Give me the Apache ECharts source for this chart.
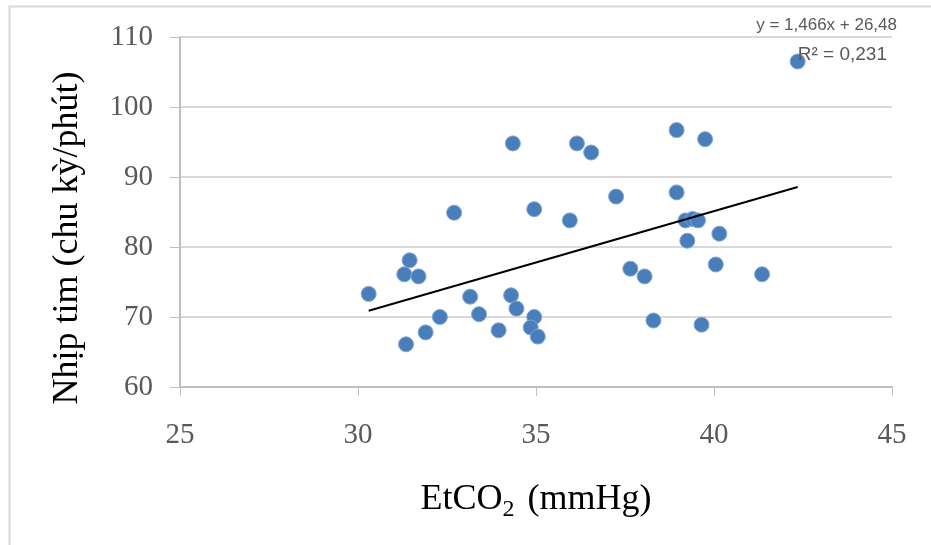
<!DOCTYPE html>
<html>
<head>
<meta charset="utf-8">
<script src="https://cdn.jsdelivr.net/npm/echarts@6/dist/echarts.min.js"></script>
<style>html,body{margin:0;padding:0;background:#fff;}#c{width:931px;height:545px;}</style>
</head>
<body>
<div id="c"></div>
<script>
// EtCO2 (mmHg) values
const etco2 = [32.7, 34.95, 31.45, 31.3, 31.7, 30.3, 33.15, 34.3, 32.3, 33.4, 34.45, 31.9, 31.35, 33.95, 34.95, 34.85, 35.05,
  36.15, 36.55, 38.95, 39.75, 37.25, 38.95, 35.95, 39.2, 39.4, 39.55, 39.25, 40.15, 37.65, 38.05, 40.05, 41.35, 38.3, 39.65,
  42.35, 34.35];
// Heart rate (beats/min) values
const heartRate = [84.9, 85.4, 78.1, 76.1, 75.8, 73.3, 72.9, 73.1, 70.0, 70.4, 71.2, 67.8, 66.1, 68.1, 70.0, 68.5, 67.2,
  94.8, 93.5, 96.7, 95.4, 87.2, 87.8, 83.8, 83.8, 84.0, 83.8, 80.9, 81.9, 76.9, 75.8, 77.5, 76.1, 69.5, 68.9,
  106.5, 94.8];
// Trendline coefficients as printed on the chart
const slope = 1.466, intercept = 26.48;
const xTicks = [25, 30, 35, 40, 45];
const yTicks = [60, 70, 80, 90, 100, 110];
const yTitle = 'Nhịp tim (chu kỳ/phút)';

const points = etco2.map((x, i) => [x, heartRate[i]]);
const xMin = Math.min(...etco2), xMax = Math.max(...etco2);
const trend = [[xMin, slope * xMin + intercept], [xMax, slope * xMax + intercept]];

const chart = echarts.init(document.getElementById('c'));
const serif = '"Liberation Serif", "Times New Roman", serif';
chart.setOption({
  animation: false,
  backgroundColor: '#fff',
  grid: { left: 180, top: 37, width: 712, height: 350 },
  xAxis: {
    type: 'value', min: xTicks[0], max: xTicks[xTicks.length - 1], interval: 5,
    axisLine: { show: true, lineStyle: { color: '#bfbfbf', width: 2 } },
    axisTick: { show: true, length: 9, lineStyle: { color: '#bfbfbf', width: 1 } },
    splitLine: { show: false },
    axisLabel: { color: '#595959', fontFamily: serif, fontSize: 29, margin: 34 },
    name: 'EtCO{sub|2} (mmHg)', nameLocation: 'middle', nameGap: 91,
    nameTextStyle: { color: '#000', fontFamily: serif, fontSize: 36,
      rich: { sub: { fontFamily: serif, fontSize: 24, verticalAlign: 'bottom', padding: [20, 4, 0, 0], color: '#000' } } }
  },
  yAxis: {
    type: 'value', min: yTicks[0], max: yTicks[yTicks.length - 1], interval: 10,
    axisLine: { show: true, lineStyle: { color: '#bfbfbf', width: 2 } },
    axisTick: { show: true, length: 10, lineStyle: { color: '#bfbfbf', width: 1 } },
    splitLine: { show: true, lineStyle: { color: '#d9d9d9', width: 2 } },
    axisLabel: { color: '#595959', fontFamily: serif, fontSize: 29, margin: 27 }
  },
  series: [
    {
      type: 'scatter', data: points, symbol: 'circle', symbolSize: 15,
      itemStyle: { color: '#4a7ebb', borderColor: '#7ea6d8', borderWidth: 1, opacity: 1 },
      z: 3
    },
    {
      type: 'line', data: trend, symbol: 'none', showSymbol: false,
      lineStyle: { color: '#000', width: 2 }, z: 4, silent: true
    }
  ],
  graphic: [
    { type: 'rect', shape: { x: 9.5, y: 6.5, width: 940, height: 560 }, style: { fill: 'none', stroke: '#d9d9d9', lineWidth: 2 }, z: -1 },
    { type: 'text', x: 68, y: 238, rotation: Math.PI / 2,
      style: { text: yTitle, fill: '#000', font: '36px "Liberation Serif", "Times New Roman", serif', textAlign: 'center', textVerticalAlign: 'middle' }, z: 10 },
    { type: 'text', right: 34, top: 17, style: { text: 'y = 1,466x + 26,48', fill: '#595959', font: '17px "Liberation Sans", "Open Sans", sans-serif' }, z: 10 },
    { type: 'text', right: 44, top: 45, style: { text: 'R² = 0,231', fill: '#595959', font: '19px "Liberation Sans", "Open Sans", sans-serif' }, z: 10 }
  ]
});
</script>
</body>
</html>
